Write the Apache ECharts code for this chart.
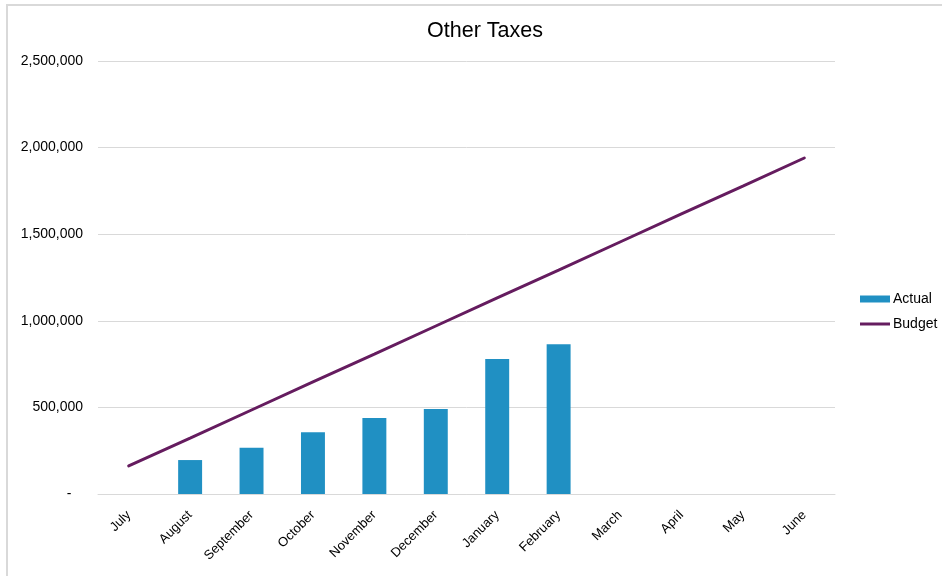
<!DOCTYPE html>
<html>
<head>
<meta charset="utf-8">
<script src="https://cdn.jsdelivr.net/npm/echarts@6/dist/echarts.min.js"></script>
<style>
  html, body { margin: 0; padding: 0; background: #fff; }
  #wrap { position: relative; width: 942px; height: 576px; overflow: hidden; }
  #chart { position: absolute; left: 0; top: 0; width: 942px; height: 576px; }
  #frame { position: absolute; left: 6px; top: 4px; width: 960px; height: 600px;
           border-left: 2px solid #d9d9d9; border-top: 2px solid #d9d9d9; pointer-events: none; }
</style>
</head>
<body>
<div id="wrap">
  <div id="chart"></div>
  <div id="frame"></div>
</div>
<script>
// Monthly categories for the fiscal year (July to June)
const months = ['July', 'August', 'September', 'October', 'November', 'December',
                'January', 'February', 'March', 'April', 'May', 'June'];

// Year-to-date actual collections (no figure yet for July or March onwards)
const actual = [null, 196000, 267000, 356000, 439000, 491000, 779000, 864000,
                null, null, null, null];

// Cumulative budget by month
const budget = [162000, 323000, 485000, 647000, 808000, 970000, 1132000, 1293000,
                1455000, 1617000, 1778000, 1940000];

// Value axis ticks
const yTicks = { min: 0, max: 2500000, interval: 500000 };

const FONT = 'Liberation Sans, Arial, sans-serif';
const BAR_COLOR = '#2090c3';
const LINE_COLOR = '#651c5f';

const chart = echarts.init(document.getElementById('chart'), null, { renderer: 'canvas' });

chart.setOption({
  backgroundColor: '#ffffff',
  animation: false,
  title: {
    text: 'Other Taxes',
    left: 480,
    top: 15,
    textAlign: 'center',
    textStyle: { fontFamily: FONT, fontSize: 21.5, fontWeight: 'normal', color: '#000000' }
  },
  legend: {
    orient: 'vertical',
    left: 860,
    top: 292,
    padding: 0,
    itemWidth: 30,
    itemHeight: 7,
    itemGap: 11,
    textStyle: { fontFamily: FONT, fontSize: 14, color: '#000000', padding: [0, 0, 0, -2] },
    data: [
      { name: 'Actual', icon: 'rect', itemStyle: { color: BAR_COLOR } },
      { name: 'Budget', icon: 'path://M0,0H30V3H0Z', itemStyle: { color: LINE_COLOR } }
    ]
  },
  grid: { left: 98, right: 107, top: 61, bottom: 82, containLabel: false },
  xAxis: {
    type: 'category',
    data: months,
    boundaryGap: true,
    axisLine: { lineStyle: { color: '#d9d9d9', width: 1 } },
    axisTick: { show: false },
    axisLabel: {
      rotate: 45,
      interval: 0,
      margin: 19,
      fontFamily: FONT,
      fontSize: 13,
      color: '#000000'
    }
  },
  yAxis: {
    type: 'value',
    min: yTicks.min,
    max: yTicks.max,
    interval: yTicks.interval,
    axisLine: { show: false },
    axisTick: { show: false },
    splitLine: { lineStyle: { color: '#d9d9d9', width: 1 } },
    axisLabel: {
      margin: 15,
      fontFamily: FONT,
      fontSize: 14,
      color: '#000000',
      formatter: v => v === 0 ? '-   ' : v.toLocaleString('en-US')
    }
  },
  series: [
    {
      name: 'Actual',
      type: 'bar',
      data: actual,
      barWidth: '39%',
      itemStyle: { color: BAR_COLOR }
    },
    {
      name: 'Budget',
      type: 'line',
      data: budget,
      symbol: 'none',
      showSymbol: false,
      lineStyle: { color: LINE_COLOR, width: 3, cap: 'round' },
      itemStyle: { color: LINE_COLOR },
      z: 3
    }
  ]
});
</script>
</body>
</html>
